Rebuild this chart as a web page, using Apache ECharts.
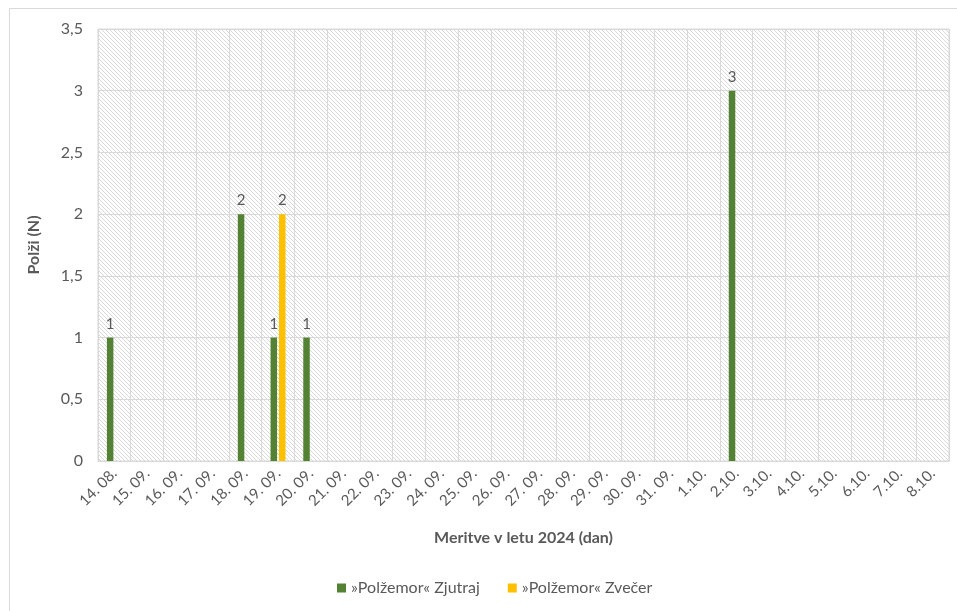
<!DOCTYPE html>
<html>
<head>
<meta charset="utf-8">
<script src="https://cdn.jsdelivr.net/npm/echarts@6/dist/echarts.min.js"></script>
<style>
  html, body { margin: 0; padding: 0; background: #fff; }
  #main { width: 957px; height: 611px; }
</style>
</head>
<body>
<div id="main"></div>
<script>
// dates of the measurements
var days = ['14. 08.', '15. 09.', '16. 09.', '17. 09.', '18. 09.', '19. 09.', '20. 09.',
  '21. 09.', '22. 09.', '23. 09.', '24. 09.', '25. 09.', '26. 09.', '27. 09.', '28. 09.',
  '29. 09.', '30. 09.', '31. 09.', '1.10.', '2.10.', '3.10.', '4.10.', '5.10.', '6.10.',
  '7.10.', '8.10.'];
var morning = [1, 0, 0, 0, 2, 1, 1, 0, 0, 0, 0, 0, 0, 0, 0, 0, 0, 0, 0, 3, 0, 0, 0, 0, 0, 0];
var evening = [0, 0, 0, 0, 0, 2, 0, 0, 0, 0, 0, 0, 0, 0, 0, 0, 0, 0, 0, 0, 0, 0, 0, 0, 0, 0];
var seriesNames = ['\u00bbPol\u017eemor\u00ab Zjutraj', '\u00bbPol\u017eemor\u00ab Zve\u010der'];

// hatched background like the excel pattern fill
var pat = document.createElement('canvas');
pat.width = 4;
pat.height = 4;
var pc = pat.getContext('2d');
pc.fillStyle = '#ffffff';
pc.fillRect(0, 0, 4, 4);
pc.fillStyle = '#d9d9d9';
for (var i = 0; i < 4; i++) {
  pc.fillRect(i, i, 1, 1);
}

var txt = '#595959';
var fontFam = 'Lato, "Open Sans", sans-serif';

function lbl(p) {
  return p.value ? String(p.value) : '';
}

var chartDom = document.getElementById('main');
var myChart = echarts.init(chartDom);
var option = {
  animation: false,
  textStyle: { fontFamily: fontFam },
  graphic: [{
    type: 'rect',
    shape: { x: 9.5, y: 8.5, width: 1000, height: 800 },
    style: { fill: 'none', stroke: '#d9d9d9', lineWidth: 1 },
    silent: true
  }],
  grid: {
    left: 98,
    right: 8,
    top: 29,
    bottom: 150,
    show: true,
    backgroundColor: { image: pat, repeat: 'repeat' },
    borderColor: '#d9d9d9',
    borderWidth: 1
  },
  legend: {
    bottom: 10,
    left: 332,
    icon: 'rect',
    itemWidth: 9,
    itemHeight: 9,
    itemGap: 28,
    textStyle: { color: txt, fontSize: 16, fontFamily: fontFam },
    data: seriesNames
  },
  xAxis: {
    type: 'category',
    data: days,
    name: 'Meritve v letu 2024 (dan)',
    nameLocation: 'middle',
    nameGap: 69,
    nameTextStyle: { color: txt, fontSize: 16, fontWeight: 'bold', fontFamily: fontFam },
    axisLine: { lineStyle: { color: '#d9d9d9' } },
    axisTick: { show: false },
    axisLabel: { rotate: 45, color: txt, fontSize: 15, margin: 10, interval: 0, fontFamily: fontFam },
    splitLine: { show: true, lineStyle: { color: '#d9d9d9' } }
  },
  yAxis: {
    type: 'value',
    min: 0,
    max: 3.5,
    interval: 0.5,
    name: 'Pol\u017ei (N)',
    nameLocation: 'middle',
    nameGap: 56,
    nameTextStyle: { color: txt, fontSize: 16, fontWeight: 'bold', fontFamily: fontFam },
    axisLine: { show: false },
    axisTick: { show: false },
    axisLabel: {
      color: txt,
      fontSize: 16,
      margin: 15,
      fontFamily: fontFam,
      formatter: function (v) { return String(v).replace('.', ','); }
    },
    splitLine: { lineStyle: { color: '#d9d9d9' } }
  },
  series: [
    {
      name: seriesNames[0],
      type: 'bar',
      data: morning,
      barWidth: 6.5,
      barGap: '30%',
      itemStyle: { color: '#548235' },
      label: { show: true, position: 'top', distance: 6, color: txt, fontSize: 15, formatter: lbl }
    },
    {
      name: seriesNames[1],
      type: 'bar',
      data: evening,
      barWidth: 6.5,
      itemStyle: { color: '#ffc000' },
      label: { show: true, position: 'top', distance: 6, color: txt, fontSize: 15, formatter: lbl }
    }
  ]
};
myChart.setOption(option);
window.addEventListener('resize', function () {
  myChart.resize();
});
</script>
</body>
</html>
